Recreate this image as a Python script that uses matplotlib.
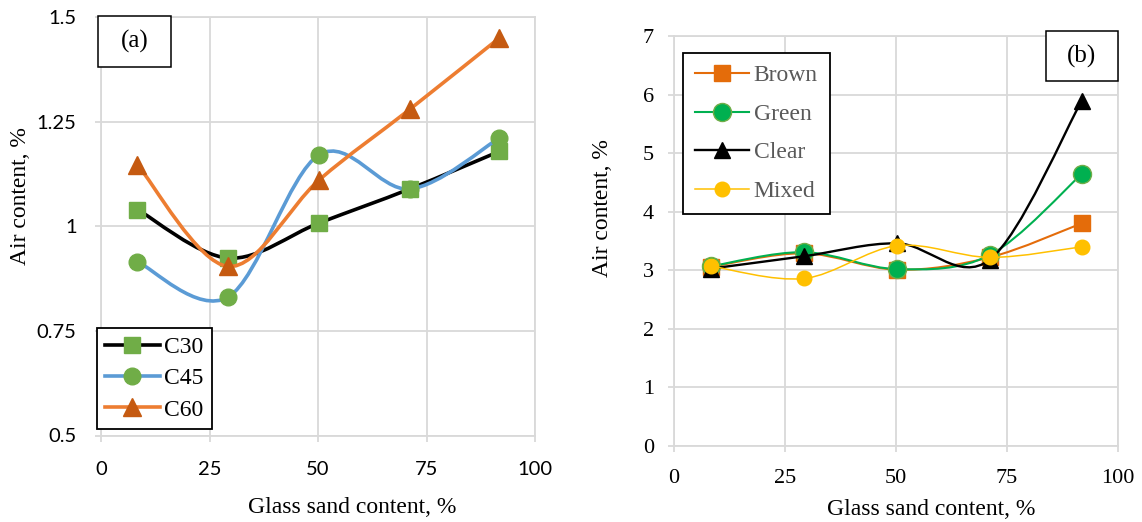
import numpy as np
import matplotlib.pyplot as plt
from matplotlib.path import Path
from matplotlib.patches import PathPatch, Rectangle
from matplotlib.lines import Line2D

# glass sand content, %
sand = [8.4, 29.3, 50.3, 71.1, 91.8]

# (a) air content by concrete grade
c30 = [1.04, 0.924, 1.008, 1.089, 1.179]
c45 = [0.915, 0.831, 1.171, 1.089, 1.211]
c60 = [1.147, 0.904, 1.111, 1.279, 1.450]

# (b) air content by glass colour
brown = [3.06, 3.29, 3.01, 3.22, 3.80]
green = [3.07, 3.31, 3.02, 3.26, 4.64]
clear = [3.03, 3.24, 3.46, 3.18, 5.89]
mixed = [3.07, 2.86, 3.42, 3.22, 3.40]

x_ticks = [0, 25, 50, 75, 100]
a_yticks = [0.5, 0.75, 1, 1.25, 1.5]
a_ylabels = ['0.5', '0.75', '1', '1.25', '1.5']
b_yticks = [0, 1, 2, 3, 4, 5, 6, 7]

SERIF = 'Liberation Serif'
SANS = 'Lato'
GRID = '#D9D9D9'


def smooth_path(x, y):
    # excel-style smoothed line: cubic bezier through every point
    p = np.column_stack([x, y]).astype(float)
    n = len(p)
    verts = [p[0]]
    codes = [Path.MOVETO]
    for i in range(n - 1):
        prev = p[i - 1] if i > 0 else p[i]
        nxt = p[i + 2] if i + 2 < n else p[i + 1]
        c1 = p[i] + (p[i + 1] - prev) / 6
        c2 = p[i + 1] - (nxt - p[i]) / 6
        verts += [c1, c2, p[i + 1]]
        codes += [Path.CURVE4] * 3
    return Path(verts, codes)


def draw_series(ax, x, y, lc, lw, marker, mfc, mec, ms, z):
    ax.add_patch(PathPatch(smooth_path(x, y), fill=False, edgecolor=lc,
                           lw=lw, zorder=z, capstyle='round'))
    ax.plot(x, y, ls='none', marker=marker, ms=ms, mfc=mfc, mec=mec,
            mew=1, zorder=z + 0.5)
    return Line2D([], [], color=lc, lw=lw, marker=marker, ms=ms, mfc=mfc,
                  mec=mec, mew=1)


def style_axes(ax, tick_font, ypad, xpad):
    ax.set_xlim(0, 100)
    ax.set_xticks(x_ticks)
    ax.grid(True, color=GRID, lw=1.3, zorder=0)
    ax.set_axisbelow(True)
    for s in ax.spines.values():
        s.set_color(GRID)
        s.set_linewidth(1.3)
    ax.tick_params(axis='both', direction='out', color=GRID, width=1.3,
                   length=4.5, labelsize=14.5 if tick_font == SANS else 16)
    ax.tick_params(axis='x', pad=xpad)
    ax.tick_params(axis='y', pad=ypad)
    for lab in ax.get_xticklabels() + ax.get_yticklabels():
        lab.set_fontfamily(tick_font)


def panel_tag(fig, text, x0, y0, x1, y1):
    W, H = 1142, 522
    fig.add_artist(Rectangle((x0 / W, 1 - y1 / H), (x1 - x0) / W,
                             (y1 - y0) / H, transform=fig.transFigure,
                             fill=True, facecolor='white', edgecolor='black',
                             lw=1.1, zorder=10))
    fig.text((x0 + x1) / 2 / W, 1 - (y0 + y1) / 2 / H, text, ha='center',
             va='center', fontsize=18, family=SERIF, zorder=11)


fig = plt.figure(figsize=(11.42, 5.22), dpi=100)
ax1 = fig.add_axes([101 / 1142, 1 - 435.5 / 522, 434 / 1142, 418.5 / 522])
ax2 = fig.add_axes([674 / 1142, 1 - 446 / 522, 444 / 1142, 410 / 522])

# ---- (a)
h30 = draw_series(ax1, sand, c30, 'black', 2.6, 's', '#70AD47', '#70AD47', 12, 3)
h45 = draw_series(ax1, sand, c45, '#5B9BD5', 2.6, 'o', '#70AD47', '#70AD47', 12, 4)
h60 = draw_series(ax1, sand, c60, '#ED7D31', 2.6, '^', '#C55A11', '#C55A11', 12.5, 5)
ax1.set_ylim(0.5, 1.5)
ax1.set_yticks(a_yticks)
ax1.set_yticklabels(a_ylabels)
style_axes(ax1, SANS, 13, 14)
ax1.set_xlabel('Glass sand content, %', family=SERIF, fontsize=17)
ax1.xaxis.set_label_coords(0.578, -0.173)
ax1.xaxis.label.set_va('center')
ax1.set_ylabel('Air content, %', family=SERIF, fontsize=17)
ax1.yaxis.set_label_coords(-0.185, 0.572)
ax1.yaxis.label.set_va('center')
leg1 = ax1.legend([h30, h45, h60], ['C30', 'C45', 'C60'], loc='upper left',
                  bbox_to_anchor=(97 / 1142, 1 - 328 / 522),
                  bbox_transform=fig.transFigure, prop={'family': SERIF, 'size': 17},
                  frameon=True, fancybox=False, edgecolor='black',
                  handlelength=2.3, handletextpad=0.2, labelspacing=0.42,
                  borderpad=0.35, borderaxespad=0, framealpha=1)
leg1.get_frame().set_linewidth(1.3)
leg1.set_zorder(20)

# ---- (b)
hb = draw_series(ax2, sand, brown, '#E46C0A', 1.5, 's', '#E46C0A', '#E46C0A', 11, 3)
hg = draw_series(ax2, sand, green, '#00B050', 1.5, 'o', '#00B050', '#70AD47', 13, 4)
hc = draw_series(ax2, sand, clear, 'black', 1.7, '^', 'black', 'black', 11.5, 5)
hm = draw_series(ax2, sand, mixed, '#FFC000', 1.1, 'o', '#FFC000', '#FFC000', 10.5, 6)
ax2.set_ylim(0, 7)
ax2.set_yticks(b_yticks)
style_axes(ax2, SERIF, 10, 12)
ax2.set_xlabel('Glass sand content, %', family=SERIF, fontsize=17)
ax2.xaxis.set_label_coords(0.58, -0.156)
ax2.xaxis.label.set_va('center')
ax2.set_ylabel('Air content, %', family=SERIF, fontsize=17)
ax2.yaxis.set_label_coords(-0.160, 0.580)
ax2.yaxis.label.set_va('center')
leg2 = ax2.legend([hb, hg, hc, hm], ['Brown', 'Green', 'Clear', 'Mixed'],
                  loc='upper left', bbox_to_anchor=(683 / 1142, 1 - 53 / 522),
                  bbox_transform=fig.transFigure, prop={'family': SERIF, 'size': 17},
                  frameon=True, fancybox=False, edgecolor='black',
                  handlelength=2.3, handletextpad=0.2, labelspacing=0.72,
                  borderpad=0.5, borderaxespad=0, framealpha=1,
                  labelcolor='#595959')
leg2.get_frame().set_linewidth(1.3)
leg2.set_zorder(20)

panel_tag(fig, '(a)', 98, 16, 171, 67)
panel_tag(fig, '(b)', 1046, 31, 1118, 81)

fig.savefig('out.png', dpi=100)
